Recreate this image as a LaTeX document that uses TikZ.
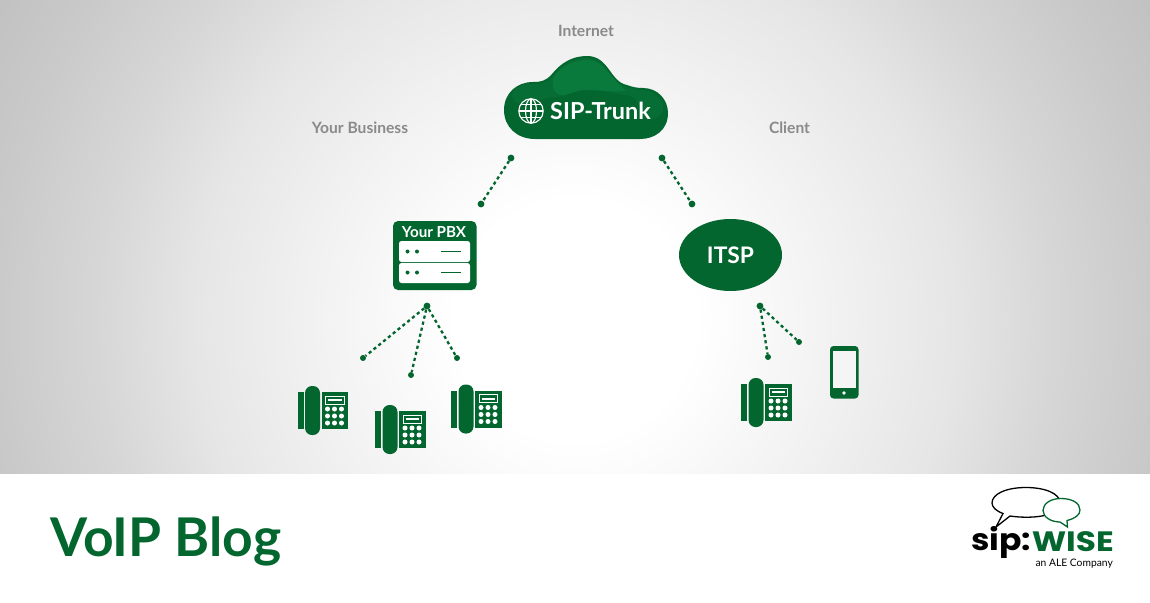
\documentclass[tikz,border=0pt]{standalone}
\usepackage{fontspec}
\usepackage{xcolor}
\usepackage{tikz}
\usetikzlibrary{positioning, arrows.meta, shapes.geometric}
\setmainfont{Lato}
\newfontfamily\logofont{Poppins}
\definecolor{sipgreen}{HTML}{03662F}
\definecolor{cloudlight}{HTML}{0A793C}
\definecolor{cloudmid}{HTML}{066E35}
\definecolor{labelgray}{HTML}{8A8A8A}
\pgfdeclareradialshading{bgglow}{\pgfpoint{0bp}{0bp}}{color(0bp)=(white); color(4.4bp)=(white); color(10.3bp)=(black!6); color(14bp)=(black!10); color(15.8bp)=(black!13); color(17.6bp)=(black!16); color(21.3bp)=(black!21); color(25bp)=(black!25); color(50bp)=(black!25)}
\tikzset{
  linkdot/.style={circle, fill=sipgreen, inner sep=0pt, minimum size=6.8pt},
  dotlink/.style={sipgreen, line width=2.3pt, dash pattern=on 3.2pt off 3pt},
  zonelabel/.style={text=labelgray, font=\bfseries\fontsize{15.6}{17}\selectfont},
  deskphone/.pic={
    \fill[sipgreen] (0,6) rectangle (6,43);
    \fill[sipgreen, rounded corners=7pt] (7.5,0) rectangle (22.5,49);
    \fill[sipgreen] (24,6) rectangle (50.5,43);
    \draw[white, line width=0.9pt] (28,10) rectangle (46.5,18);
    \fill[white] (30.5,13.2) rectangle (44,15);
    \foreach \kx in {30,37,44} \foreach \ky in {23,30,37}
      \fill[white] (\kx,\ky) circle (2.5);
  }
}
\begin{document}
\begin{tikzpicture}[x=1pt,y=-1pt]
\useasboundingbox (0,0) rectangle (1150,602);
% backdrop with the soft glow
\begin{scope}
\clip (0,0) rectangle (1150,473);
\shade[shading=bgglow] (575,320) circle (680);
\end{scope}
% cloud
\fill[sipgreen] (535,139) .. controls (517,139) and (504,127) .. (504,110)
  .. controls (504,93) and (517,82) .. (533,82)
  .. controls (541,82) and (546,81) .. (552,74)
  .. controls (561,63) and (572,56) .. (587,56)
  .. controls (609,56) and (610,82) .. (627,85)
  .. controls (632,87) and (637,88) .. (643,88)
  .. controls (658,88) and (668,100) .. (668,113)
  .. controls (668,130) and (655,139) .. (640,139) -- cycle;
% lighter rim along the top of the cloud
\fill[cloudmid] (513,92) .. controls (518,85) and (526,84) .. (533,84)
  .. controls (542,84) and (548,83) .. (553,76)
  .. controls (562,65) and (573,58) .. (587,58)
  .. controls (607,58) and (609,83) .. (627,87)
  .. controls (632,89) and (637,90) .. (643,90)
  .. controls (652,90) and (660,96) .. (663,105)
  .. controls (666,114) and (652,122) .. (645,118)
  .. controls (640,112) and (640,100) .. (630,96)
  .. controls (610,92) and (600,90) .. (587,90)
  .. controls (575,90) and (565,97) .. (556,97)
  .. controls (545,97) and (535,101) .. (525,104)
  .. controls (515,105) and (510,98) .. (513,92) -- cycle;
\fill[cloudlight] (553,84) .. controls (551,72) and (570,60) .. (587,60)
  .. controls (603,60) and (609,76) .. (626,91)
  .. controls (610,92) and (600,90) .. (587,90)
  .. controls (572,90) and (566,97) .. (560,95)
  .. controls (555,93) and (553,90) .. (553,84) -- cycle;
% globe
\begin{scope}[white, line width=1.15pt]
\draw (531,111) circle (12.2);
\draw (531,111) ellipse [x radius=5.5, y radius=12.2];
\draw (531,98.8) -- (531,123.2);
\draw (519,111) -- (543,111);
\draw (521,104.5) -- (541,104.5);
\draw (521,117.5) -- (541,117.5);
\end{scope}
\node[text=white, font=\bfseries\fontsize{23.4}{25}\selectfont, anchor=west, inner sep=0pt] (trunk) at (550,111) {SIP-Trunk};
\node[zonelabel] (internet) at (586,31) {Internet};
\node[zonelabel] (business) at (360,128) {Your Business};
\node[zonelabel] (client) at (789.5,128) {Client};
% pbx box
\fill[sipgreen, rounded corners=5pt] (393,221) rectangle (476.5,290);
\fill[white, rounded corners=2.5pt] (399,241) rectangle (470,262);
\fill[white, rounded corners=2.5pt] (399,263) rectangle (470,283);
\foreach \rowy in {251.5,272.5} {
  \fill[sipgreen] (407.5,\rowy) circle (2);
  \fill[sipgreen] (417,\rowy) circle (2);
  \draw[sipgreen, line width=1.6pt] (441,\rowy) -- (461,\rowy);
}
\node[text=white, font=\bfseries\fontsize{15.2}{17}\selectfont, inner sep=0pt] (pbx) at (434,232) {Your PBX};
% itsp
\node[ellipse, fill=sipgreen, text=white, minimum width=103pt, minimum height=72pt, inner sep=0pt, font=\bfseries\fontsize{22.8}{25}\selectfont] (itsp) at (730.5,255) {ITSP};
% dots and links
\node[linkdot] (cloudleft) at (511,158) {};
\node[linkdot] (pbxup) at (481,204) {};
\node[linkdot] (cloudright) at (662,158) {};
\node[linkdot] (itspup) at (692,204) {};
\node[linkdot] (pbxdown) at (427,306) {};
\node[linkdot, minimum size=6pt] (phonea) at (363,358) {};
\node[linkdot, minimum size=6pt] (phoneb) at (411,375) {};
\node[linkdot, minimum size=6pt] (phonec) at (457,358) {};
\node[linkdot] (itspdown) at (760,306) {};
\node[linkdot, minimum size=6pt] (phoned) at (768,357) {};
\node[linkdot, minimum size=6pt] (mobile) at (799,342) {};
\draw[dotlink] (cloudleft) -- (pbxup);
\draw[dotlink] (cloudright) -- (itspup);
\draw[dotlink] (pbxdown) -- (phonea);
\draw[dotlink] (pbxdown) -- (phoneb);
\draw[dotlink] (pbxdown) -- (phonec);
\draw[dotlink] (itspdown) -- (phoned);
\draw[dotlink] (itspdown) -- (mobile);
% phones
\pic at (297.5,386) {deskphone};
\pic at (375,405) {deskphone};
\pic at (451,384.5) {deskphone};
\pic at (741,378) {deskphone};
% smartphone
\fill[sipgreen, rounded corners=3.5pt] (830,346) rectangle (858.5,398.5);
\fill[white!96!black] (832.5,351) rectangle (856,388);
\fill[white] (844,393) circle (1.9);
% footer
\node[text=sipgreen, font=\bfseries\fontsize{53.4}{57}\selectfont, anchor=base west, inner sep=0pt] (blog) at (50,556) {VoIP Blog};
% logo bubbles
\draw[black, line width=1.3pt, fill=white] (1026,487.5) .. controls (1006,487.5) and (992,494) .. (992,503)
  .. controls (992,507) and (996,511) .. (1003,513.5) -- (996,527) -- (1010,516)
  .. controls (1030,519) and (1060,517) .. (1060,503) .. controls (1060,493) and (1044,487.5) .. (1026,487.5) -- cycle;
\draw[sipgreen, line width=1.3pt, fill=white] (1061,498.5) .. controls (1050,498.5) and (1043,504) .. (1043,510.5)
  .. controls (1043,517) and (1051,522) .. (1060,522) -- (1067.5,527) -- (1067,520.5)
  .. controls (1075,518.5) and (1080,515) .. (1080,510) .. controls (1080,503) and (1072,498.5) .. (1061,498.5) -- cycle;
\node[font=\logofont\bfseries\fontsize{30}{30}\selectfont, xscale=1.1, anchor=base west, inner sep=0pt] (sip) at (971,550.5) {sip:};
\node[text=sipgreen, font=\logofont\bfseries\fontsize{28}{28}\selectfont, xscale=1.17, anchor=base east, inner sep=0pt] (wise) at (1114,551.5) {WISE};
\node[font=\fontsize{10.3}{11}\selectfont, anchor=base east, inner sep=0pt] (ale) at (1113,566.5) {an ALE Company};
\end{tikzpicture}
\end{document}
